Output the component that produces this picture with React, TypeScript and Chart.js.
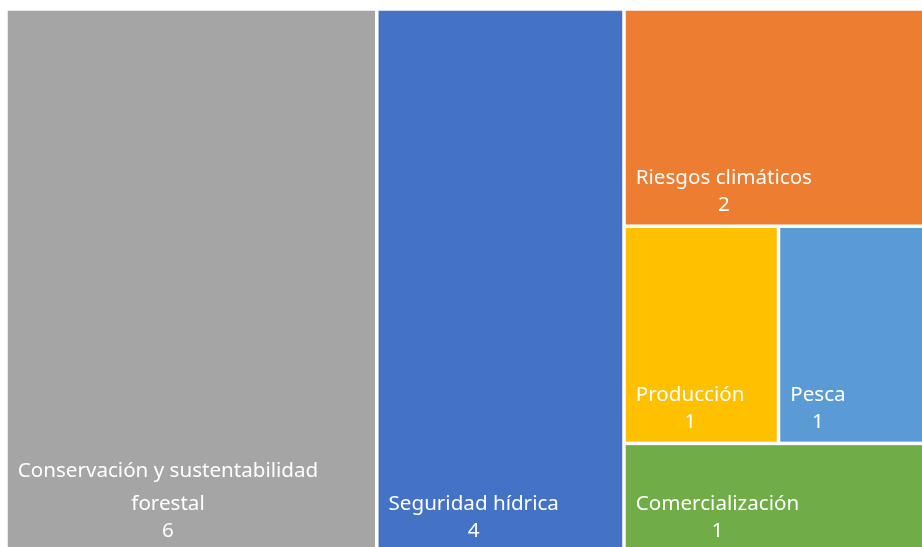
import React, { useEffect, useRef } from "react";
import { Chart, registerables } from "chart.js";

Chart.register(...registerables);

// ---- data ----
const categories: string[] = [
  "Conservación y sustentabilidad forestal",
  "Seguridad hídrica",
  "Riesgos climáticos",
  "Producción",
  "Pesca",
  "Comercialización",
];
const values: number[] = [6, 4, 2, 1, 1, 1];
const colors: string[] = ["#A5A5A5", "#4472C4", "#ED7D31", "#FFC000", "#5B9BD5", "#70AD47"];

type R = { x: number; y: number; w: number; h: number };
type Item = { i: number; v: number };

// squarified-style treemap layout (in units where the area is aspect x 1)
function squarify(items: Item[], rect: R, out: R[]) {
  if (!items.length) return;
  const total = items.reduce((s, it) => s + it.v, 0);
  const scale = (rect.w * rect.h) / total;
  const short = Math.min(rect.w, rect.h);
  const worst = (row: Item[]) => {
    const s = row.reduce((a, it) => a + it.v, 0) * scale;
    const len = s / short;
    let m = 0;
    for (const it of row) {
      const other = (it.v * scale) / len;
      m = Math.max(m, len / other, other / len);
    }
    return m;
  };
  const row: Item[] = [items[0]];
  let k = 1;
  while (k < items.length) {
    const next = items[k];
    const last = row[row.length - 1];
    if (next.v <= last.v / 2) break;
    if (worst([...row, next]) > worst(row)) break;
    row.push(next);
    k++;
  }
  const rowArea = row.reduce((a, it) => a + it.v, 0) * scale;
  let rest: R;
  if (rect.w >= rect.h) {
    const cw = rowArea / rect.h;
    let cy = rect.y;
    for (const it of row) {
      const rh = (it.v * scale) / cw;
      out[it.i] = { x: rect.x, y: cy, w: cw, h: rh };
      cy += rh;
    }
    rest = { x: rect.x + cw, y: rect.y, w: rect.w - cw, h: rect.h };
  } else {
    const rh = rowArea / rect.w;
    let cx = rect.x;
    for (const it of row) {
      const rw = (it.v * scale) / rh;
      out[it.i] = { x: cx, y: rect.y, w: rw, h: rh };
      cx += rw;
    }
    rest = { x: rect.x, y: rect.y + rh, w: rect.w, h: rect.h - rh };
  }
  squarify(items.slice(k), rest, out);
}

const CW = 927;
const CH = 543;
const GAP = 3.5;
const FONT = '20.6px "Noto Sans", "Open Sans", sans-serif';

function wrapText(ctx: CanvasRenderingContext2D, text: string, maxW: number): string[] {
  const words = text.split(" ");
  const lines: string[] = [];
  let cur = "";
  for (const w of words) {
    const t = cur ? cur + " " + w : w;
    if (cur && ctx.measureText(t).width > maxW) {
      lines.push(cur);
      cur = w;
    } else cur = t;
  }
  if (cur) lines.push(cur);
  return lines;
}

const treemapPlugin = {
  id: "treemapCells",
  afterDatasetsDraw(chart: any) {
    const ctx: CanvasRenderingContext2D = chart.ctx;
    const xs = chart.scales.x;
    const ys = chart.scales.y;
    const aspect = chart.chartArea.width / chart.chartArea.height;
    const rects: R[] = [];
    const items = values.map((v, i) => ({ i, v })).sort((a, b) => b.v - a.v);
    squarify(items, { x: 0, y: 0, w: aspect, h: 1 }, rects);
    ctx.save();
    rects.forEach((r, i) => {
      const l = xs.getPixelForValue(r.x / aspect);
      const rr = xs.getPixelForValue((r.x + r.w) / aspect);
      const t = ys.getPixelForValue(r.y);
      const b = ys.getPixelForValue(r.y + r.h);
      ctx.fillStyle = colors[i];
      ctx.fillRect(l + GAP / 2, t + GAP / 2, rr - l - GAP, b - t - GAP);
      // label
      ctx.font = FONT;
      ctx.fillStyle = "#FFFFFF";
      ctx.textBaseline = "alphabetic";
      ctx.textAlign = "center";
      const pad = 10;
      const lines = wrapText(ctx, categories[i], rr - l - GAP - 2 * pad);
      const blockW = Math.max(...lines.map((s) => ctx.measureText(s).width));
      const cx = l + GAP / 2 + pad + blockW / 2;
      const valBase = b - 15;
      ctx.fillText(String(values[i]), cx, valBase);
      let base = valBase - 27;
      for (let j = lines.length - 1; j >= 0; j--) {
        ctx.fillText(lines[j], cx, base);
        base -= 33;
      }
    });
    ctx.restore();
  },
};

export default function App() {
  const ref = useRef<HTMLCanvasElement | null>(null);
  useEffect(() => {
    if (!ref.current) return;
    const chart = new Chart(ref.current, {
      type: "scatter",
      data: {
        datasets: categories.map((c, i) => ({
          label: c,
          data: [{ x: 0, y: 0 }],
          pointRadius: 0,
          backgroundColor: colors[i],
        })),
      },
      options: {
        animation: false,
        responsive: false,
        events: [],
        layout: { padding: 0 },
        scales: {
          x: { type: "linear", min: 0, max: 1, display: false },
          y: { type: "linear", min: 0, max: 1, reverse: true, display: false },
        },
        plugins: { legend: { display: false }, tooltip: { enabled: false } },
      },
      plugins: [treemapPlugin],
    });
    return () => chart.destroy();
  }, []);
  return (
    <div
      style={{
        position: "fixed",
        left: 0,
        top: 0,
        width: 922,
        height: 547,
        overflow: "hidden",
        background: "#FFFFFF",
      }}
    >
      <canvas
        ref={ref}
        width={CW}
        height={CH}
        style={{ position: "absolute", left: 6, top: 9, width: CW, height: CH }}
      />
    </div>
  );
}
